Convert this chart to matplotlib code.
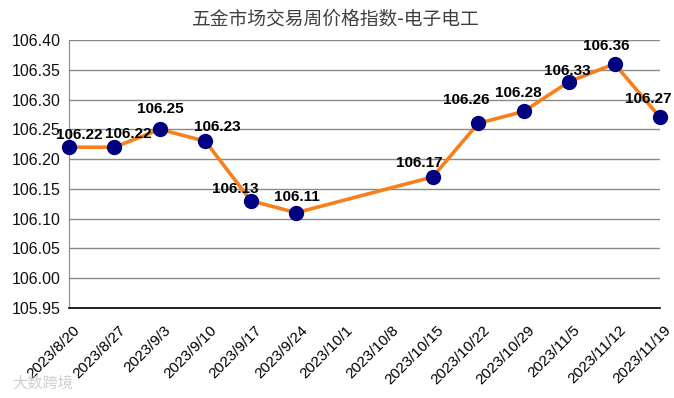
import matplotlib.pyplot as plt
import matplotlib.transforms as mtransforms
import numpy as np

plt.rcParams["font.family"] = ["Liberation Sans", "Noto Sans CJK SC", "DejaVu Sans"]

# data
dates = [
    "2023/8/20", "2023/8/27", "2023/9/3", "2023/9/10", "2023/9/17",
    "2023/9/24", "2023/10/1", "2023/10/8", "2023/10/15", "2023/10/22",
    "2023/10/29", "2023/11/5", "2023/11/12", "2023/11/19",
]
index_values = [
    106.22, 106.22, 106.25, 106.23, 106.13,
    106.11, None, None, 106.17, 106.26,
    106.28, 106.33, 106.36, 106.27,
]
yticks = [105.95, 106.00, 106.05, 106.10, 106.15, 106.20,
          106.25, 106.30, 106.35, 106.40]

# label centre offsets in pixels (dx, dy), mimics the Excel placement
label_offsets = {
    0: (10, 12), 1: (14, 13), 2: (0, 20), 3: (12, 14), 4: (-16, 12),
    5: (1, 16), 8: (-13, 14), 9: (-12, 23), 10: (-5, 18), 11: (-2, 11),
    12: (-8, 18), 13: (-12, 18),
}

fig = plt.figure(figsize=(6.74, 3.98), dpi=100)
ax = fig.add_axes([69 / 674, 1 - 308 / 398, (660 - 69) / 674, (308 - 40) / 398])

x = np.arange(len(dates))
mask = np.array([v is not None for v in index_values])
y = np.array([v if v is not None else np.nan for v in index_values], dtype=float)

ax.plot(x[mask], y[mask], color="#F7801C", linewidth=2.6, zorder=3,
        marker="o", markersize=10, markerfacecolor="#000080",
        markeredgecolor="#000080", clip_on=False)

for i in np.where(mask)[0]:
    dx, dy = label_offsets.get(i, (0, 14))
    ax.annotate(f"{y[i]:.2f}", (x[i], y[i]), xytext=(dx, dy),
                textcoords="offset pixels", ha="center", va="center",
                fontsize=11, fontweight="bold", color="black", zorder=4)

ax.set_xlim(0, len(dates) - 1)
ax.set_ylim(105.95, 106.40)
ax.set_yticks(yticks)
ax.set_yticklabels([f"{v:.2f}" for v in yticks], fontsize=11.5, color="#111111")
ax.set_xticks(x)
ax.set_xticklabels(dates, rotation=45, ha="right", va="top",
                   rotation_mode="anchor", fontsize=11)
ax.tick_params(axis="both", length=0)
ax.tick_params(axis="y", pad=6)
ax.tick_params(axis="x", pad=11)
shift = mtransforms.ScaledTranslation(4 / 100, 0, fig.dpi_scale_trans)
for lab in ax.get_xticklabels():
    lab.set_transform(lab.get_transform() + shift)

ax.grid(axis="y", color="#8a8a8a", linewidth=1.0, zorder=0)
for s in ["top", "right"]:
    ax.spines[s].set_visible(False)
ax.spines["left"].set_color("#8a8a8a")
ax.spines["bottom"].set_color("black")
ax.spines["bottom"].set_linewidth(1.2)

fig.text(336 / 674, 1 - 19 / 398, "五金市场交易周价格指数-电子电工", ha="center", va="center",
         fontsize=13.5, color="#404040", family=["Noto Sans CJK SC", "DejaVu Sans"])

# faint source watermark
fig.text(12 / 674, 1 - 383 / 398, "大数跨境", ha="left", va="center", fontsize=11,
         color="#d0d0d0", family=["Noto Sans CJK SC", "DejaVu Sans"])

fig.savefig("out.png", dpi=100, facecolor="white")
